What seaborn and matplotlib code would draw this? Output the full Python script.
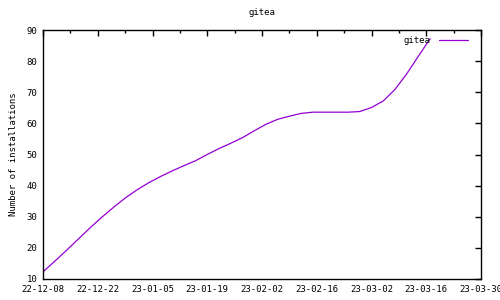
import matplotlib
matplotlib.use("Agg")
import matplotlib.pyplot as plt
import matplotlib.dates as mdates
import seaborn as sns
import pandas as pd

start_date = "2022-12-08"
day_offsets = [0, 3, 6, 9, 12, 15, 18, 21, 24, 27, 30, 33, 36, 39, 42, 45, 48, 51,
               54, 57, 60, 63, 66, 69, 72, 75, 78, 81, 84, 87, 90, 93, 96, 99]
installs = [12.3, 15.7, 19.2, 22.8, 26.4, 29.8, 33.0, 36.0, 38.6, 40.9, 42.9, 44.7,
            46.4, 48.0, 50.0, 51.9, 53.6, 55.4, 57.6, 59.7, 61.3, 62.3, 63.2, 63.6,
            63.6, 63.6, 63.6, 63.8, 65.1, 67.2, 70.9, 75.9, 81.6, 87.2]
series_name = "gitea"
x_ticks = ["2022-12-08", "2022-12-22", "2023-01-05", "2023-01-19", "2023-02-02",
           "2023-02-16", "2023-03-02", "2023-03-16", "2023-03-30"]
y_ticks = [10, 20, 30, 40, 50, 60, 70, 80, 90]

dates = pd.to_datetime(start_date) + pd.to_timedelta(day_offsets, unit="D")
df = pd.DataFrame({"date": dates, "installs": installs, "name": series_name})

sns.set_style("white")
plt.rcParams["font.family"] = ["DejaVu Sans Mono"]
plt.rcParams["text.color"] = "black"
plt.rcParams["xtick.color"] = "black"
plt.rcParams["ytick.color"] = "black"
plt.rcParams["axes.labelcolor"] = "black"

fig = plt.figure(figsize=(5, 3), dpi=100)
ax = fig.add_axes([0.086, 0.07, 0.876, 0.83])
sns.lineplot(data=df, x="date", y="installs", hue="name", palette=["#9400D3"],
             linewidth=0.9, ax=ax)

xt = pd.to_datetime(x_ticks)
ax.set_xlim(xt[0], xt[-1])
ax.set_ylim(10, 90)
ax.set_xticks(xt)
ax.xaxis.set_major_formatter(mdates.DateFormatter("%y-%m-%d"))
minor = pd.date_range(xt[0], xt[-1], freq="7D")
ax.set_xticks(minor, minor=True)
ax.set_yticks(y_ticks)

ax.tick_params(axis="both", which="both", direction="in", top=True, right=True,
               labelsize=6.5, color="black", labelcolor="black", pad=4)
ax.tick_params(which="major", length=4, width=1)
ax.tick_params(which="minor", length=2, width=1)
for sp in ax.spines.values():
    sp.set_color("black")
    sp.set_linewidth(1)

ax.set_xlabel("")
ax.set_ylabel("Number of installations", fontsize=6.5, labelpad=6, color="black")
ax.set_title("gitea", fontsize=6.5, pad=11, color="black")

leg = ax.legend(loc="upper right", bbox_to_anchor=(0.985, 1.0), frameon=False,
                markerfirst=False, fontsize=6.5, handlelength=3.2,
                handletextpad=1.0, borderaxespad=0.3)
for t in leg.get_texts():
    t.set_color("black")

fig.savefig("out.png", dpi=100)
